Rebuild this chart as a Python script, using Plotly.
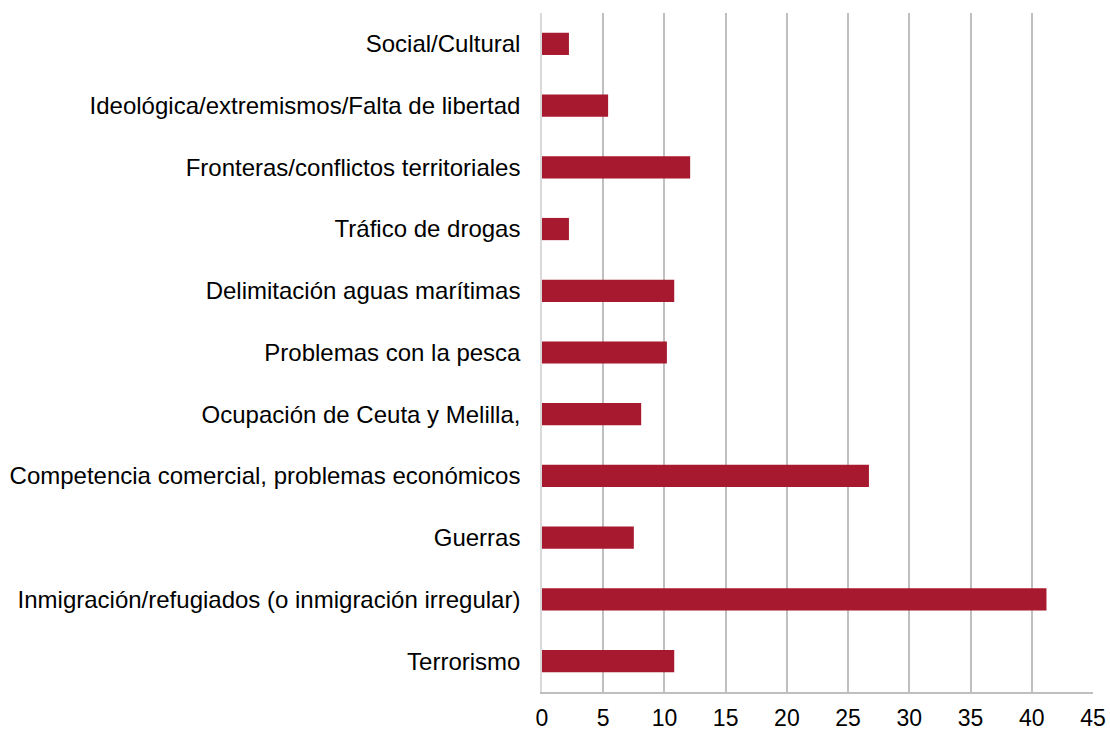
import plotly.graph_objects as go

categories = [
    "Terrorismo",
    "Inmigración/refugiados (o inmigración irregular)",
    "Guerras",
    "Competencia comercial, problemas económicos",
    "Ocupación de Ceuta y Melilla,",
    "Problemas con la pesca",
    "Delimitación aguas marítimas",
    "Tráfico de drogas",
    "Fronteras/conflictos territoriales",
    "Ideológica/extremismos/Falta de libertad",
    "Social/Cultural",
]
values = [10.8, 41.2, 7.5, 26.7, 8.1, 10.2, 10.8, 2.2, 12.1, 5.4, 2.2]
x_ticks = [0, 5, 10, 15, 20, 25, 30, 35, 40, 45]

fig = go.Figure(go.Bar(
    y=categories, x=values, orientation="h",
    marker=dict(color="#A6192E", line=dict(width=0)),
))

fig.update_layout(
    width=1110, height=731,
    margin=dict(l=542, r=17, t=13, b=39),
    plot_bgcolor="white", paper_bgcolor="white",
    bargap=0.64,
    showlegend=False,
    font=dict(family="Liberation Sans, Arial, sans-serif", size=24, color="#000000"),
)
fig.update_xaxes(
    range=[0, 45], tickvals=x_ticks, showgrid=True, gridcolor="#BFBFBF", gridwidth=1.5,
    zeroline=False, showline=True, linecolor="#BFBFBF", linewidth=1.5,
    ticks="", ticklabelstandoff=5, tickfont=dict(size=23, color="#000000"),
    automargin=False,
)
fig.update_yaxes(
    categoryorder="array", categoryarray=categories,
    showgrid=False, zeroline=False, showline=True, linecolor="#D9D9D9", linewidth=1.5,
    ticks="", ticklabelstandoff=15, tickfont=dict(size=24, color="#000000"),
    automargin=False,
)

fig.write_html(
    "out.html",
    config={"displayModeBar": False},
    post_script="document.body.style.margin='0';document.body.style.overflow='hidden';",
)
